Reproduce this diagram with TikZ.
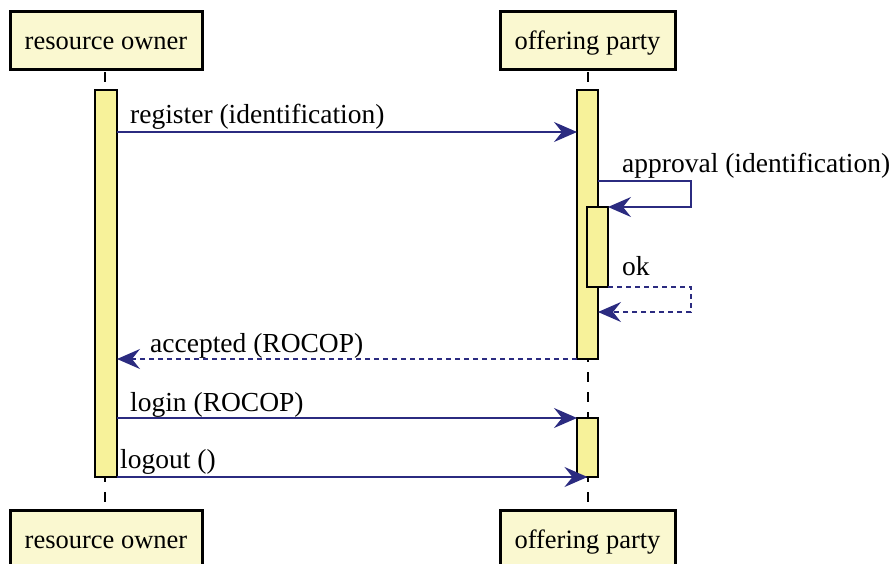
\documentclass[tikz,border=0pt]{standalone}
\usepackage{fontspec}
\setmainfont{Liberation Serif}
\usetikzlibrary{arrows.meta}
\definecolor{headfill}{HTML}{FAF8D0}
\definecolor{actfill}{HTML}{F7F29A}
\definecolor{msgcol}{HTML}{2B2B80}
\tikzset{
  head/.style={draw=black, line width=3pt, fill=headfill, minimum height=58pt, inner sep=0pt, outer sep=0pt, text height=20pt, text depth=2pt, font=\fontsize{26.5}{29}\selectfont},
  act/.style={draw=black, line width=2pt, fill=actfill, minimum width=22pt, inner sep=0pt, outer sep=0pt},
  life/.style={line width=2pt, dash pattern=on 10pt off 10pt, dash phase=17pt},
  msg/.style={draw=msgcol, line width=1.5pt, -{Stealth[length=23pt, width=20pt, inset=8pt]}},
  ret/.style={msg, dash pattern=on 5pt off 4pt},
  lbl/.style={anchor=base west, inner sep=0pt, font=\fontsize{27.5}{31}\selectfont}
}
\begin{document}
\begin{tikzpicture}[x=1pt, y=-1pt]
\useasboundingbox (0,0) rectangle (894,563);
% heads and tails
\node[head, minimum width=192pt] (roH) at (106,40) {resource owner};
\node[head, minimum width=175pt] (opH) at (587.5,40) {offering party};
\node[head, minimum width=192pt] (roT) at (106,539) {resource owner};
\node[head, minimum width=175pt] (opT) at (587.5,539) {offering party};
% lifelines
\draw[life] (roH.south -| 105,0) -- (roT.north -| 105,0);
\draw[life] (opH.south) -- (opT.north);
% activations
\node[act, minimum height=387pt] (roA) at (106,283.5) {};
\node[act, minimum width=21pt, minimum height=269pt] (opA) at (587.5,224.5) {};
\node[act, minimum width=21pt, minimum height=80pt] (opN) at (597.5,247) {};
\node[act, minimum width=21pt, minimum height=59pt] (opB) at (587.5,447.5) {};
% y levels
\coordinate (y1) at (0,132);
\coordinate (s1) at (691,181);
\coordinate (s2) at (691,312);
\coordinate (y4) at (0,359);
\coordinate (y5) at (0,418);
% messages
\draw[msg] (roA.east |- y1) -- (opA.west |- y1);
\node[lbl] (l1) at (130,123) {register (identification)};
\draw[msg] (opA.east |- s1) -- (s1) |- (opN.north east);
\node[lbl] (l2) at (622,172) {approval (identification)};
\draw[ret] (opN.south east) -| (s2) -- (opA.east |- s2);
\node[lbl] (l3) at (622,275) {ok};
\draw[ret] (opA.south west) -- (roA.east |- y4);
\node[lbl] (l4) at (150,352) {accepted (ROCOP)};
\draw[msg] (roA.east |- y5) -- (opB.north west);
\node[lbl] (l5) at (130,411) {login (ROCOP)};
\draw[msg] (roA.south east) -- (opB.south);
\node[lbl] (l6) at (120,468) {logout ()};
\end{tikzpicture}
\end{document}
